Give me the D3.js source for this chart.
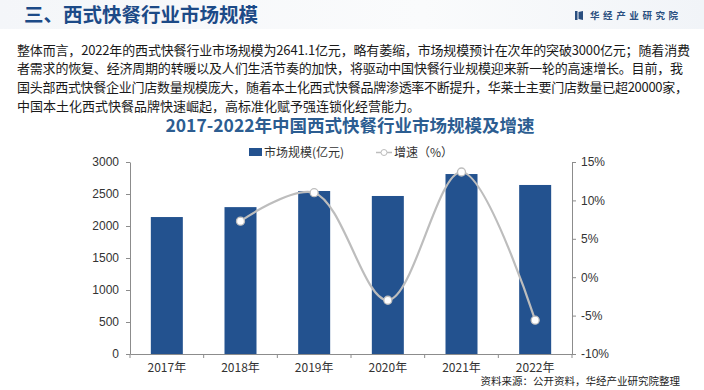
<!DOCTYPE html>
<html><head><meta charset="utf-8">
<script src="https://cdn.jsdelivr.net/npm/d3@7/dist/d3.min.js"></script>
<style>
html,body{margin:0;padding:0;background:#fff;}
svg{display:block;font-family:"Noto Sans CJK SC","Noto Sans",sans-serif;}
</style></head>
<body><svg id="c" width="704" height="390"></svg>
<script>
const categories = ["2017年","2018年","2019年","2020年","2021年","2022年"];
const marketSize = [2140, 2295, 2547, 2469, 2812, 2641.1];
const growth = [null, 7.3, 11.0, -3.0, 13.7, -5.6];
const leftTicks = [0, 500, 1000, 1500, 2000, 2500, 3000];
const rightTicks = [-10, -5, 0, 5, 10, 15];
const paragraph = [
  "整体而言，2022年的西式快餐行业市场规模为2641.1亿元，略有萎缩，市场规模预计在次年的突破3000亿元；随着消费",
  "者需求的恢复、经济周期的转暖以及人们生活节奏的加快，将驱动中国快餐行业规模迎来新一轮的高速增长。目前，我",
  "国头部西式快餐企业门店数量规模庞大，随着本土化西式快餐品牌渗透率不断提升，华莱士主要门店数量已超20000家，",
  "中国本土化西式快餐品牌快速崛起，高标准化赋予强连锁化经营能力。"
];
const paraWidths = [673, 666, 671, null];
const headerTitle = "三、西式快餐行业市场规模";
const chartTitle = "2017-2022年中国西式快餐行业市场规模及增速";
const legendLabels = ["市场规模(亿元)", "增速（%）"];
const source = "资料来源：公开资料，华经产业研究院整理";
const brand = "华经产业研究院";

const svg = d3.select("#c");
const W = 704, H = 390;

// header band
const grad = svg.append("defs").append("linearGradient").attr("id","hg").attr("x1","0").attr("x2","1");
grad.append("stop").attr("offset","0").attr("stop-color","#f4f6f9");
grad.append("stop").attr("offset","0.6").attr("stop-color","#fafbfc");
grad.append("stop").attr("offset","1").attr("stop-color","#f1f4f8");
svg.append("rect").attr("x",0).attr("y",0).attr("width",W).attr("height",29).attr("fill","url(#hg)");

svg.append("text").attr("x",24).attr("y",22).attr("font-size",19.5).attr("font-weight","bold")
  .attr("fill","#1c4a87").text(headerTitle);

// brand logo
const lg = svg.append("g").attr("transform","translate(575,11)");
lg.append("rect").attr("x",0).attr("y",0).attr("width",2.5).attr("height",9).attr("fill","#2a4f80");
lg.append("path").attr("d","M3.5,1 L8,0 L8,9 L3.5,8 Z").attr("fill","#2a4f80");
svg.append("text").attr("x",590).attr("y",19).attr("font-size",9.5).attr("font-weight","bold")
  .attr("letter-spacing","3.6px").attr("fill","#2a4f80").text(brand);

// paragraph
paragraph.forEach((t,i)=>{
  const tx = svg.append("text").attr("x",17).attr("y",54.5 + i*18.7).attr("font-size",13).attr("fill","#1a1a1a").text(t);
  if (paraWidths[i]) tx.attr("textLength",paraWidths[i]).attr("lengthAdjust","spacing");
});

// chart title
svg.append("text").attr("x",350).attr("y",132).attr("text-anchor","middle").attr("font-size",17.5)
  .attr("font-weight","bold").attr("fill","#2c5d91").text(chartTitle);

// scales
const x0 = 130, x1 = 572, yTop = 162, yBot = 354;
const xb = d3.scaleBand().domain(categories).range([x0, x1]);
const yL = d3.scaleLinear().domain([0,3000]).range([yBot, yTop]);
const yR = d3.scaleLinear().domain([-10,15]).range([yBot, yTop]);

const barColor = "#23528f";
const axisColor = "#8c8c8c";
const tickText = "#333";

// bars
svg.append("g").selectAll("rect").data(marketSize).join("rect")
  .attr("x",(d,i)=>xb(categories[i]) + xb.bandwidth()/2 - 16)
  .attr("width",32)
  .attr("y",d=>yL(d)).attr("height",d=>yBot - yL(d)).attr("fill",barColor);

// left axis
const gL = svg.append("g").attr("transform",`translate(${x0},0)`)
  .call(d3.axisLeft(yL).tickValues(leftTicks).tickSize(4).tickSizeOuter(0).tickPadding(7).tickFormat(d3.format("d")));
// right axis
const gR = svg.append("g").attr("transform",`translate(${x1},0)`)
  .call(d3.axisRight(yR).tickValues(rightTicks).tickSize(4).tickSizeOuter(0).tickPadding(5).tickFormat(d=>d+"%"));
// bottom axis
const gB = svg.append("g").attr("transform",`translate(0,${yBot})`)
  .call(d3.axisBottom(xb).tickSize(0).tickSizeOuter(0).tickPadding(9));
// band boundary ticks
const bounds = categories.map(c=>xb(c)).concat([x1]);
gB.selectAll(".btick").data(bounds).join("line").attr("class","btick")
  .attr("x1",d=>d).attr("x2",d=>d).attr("y1",0).attr("y2",4).attr("stroke",axisColor);

[gL,gR,gB].forEach(g=>{
  g.selectAll("path.domain").attr("stroke",axisColor);
  g.selectAll(".tick line").attr("stroke",axisColor);
  g.selectAll("text").attr("font-size",12).attr("fill",tickText).attr("font-family","'Liberation Sans',Arial,'Noto Sans CJK SC',sans-serif");
});
gB.selectAll("text").attr("font-family","'Noto Sans CJK SC',sans-serif").attr("font-size",12);

// line
const pts = growth.map((g,i)=>g===null?null:[xb(categories[i])+xb.bandwidth()/2, yR(g)]).filter(p=>p);
svg.append("path").datum(pts)
  .attr("d", d3.line().curve(d3.curveCatmullRom.alpha(0.5)))
  .attr("fill","none").attr("stroke","#bdbdbd").attr("stroke-width",2.2);
svg.append("g").selectAll("circle").data(pts).join("circle")
  .attr("cx",d=>d[0]).attr("cy",d=>d[1]).attr("r",4)
  .attr("fill","#fff").attr("stroke","#bdbdbd").attr("stroke-width",1.3);

// legend
svg.append("rect").attr("x",249).attr("y",148).attr("width",13).attr("height",8).attr("fill",barColor);
svg.append("text").attr("x",264).attr("y",157).attr("font-size",12).attr("fill","#333").text(legendLabels[0]);
svg.append("line").attr("x1",376).attr("x2",392).attr("y1",152.5).attr("y2",152.5).attr("stroke","#bdbdbd").attr("stroke-width",1.5);
svg.append("circle").attr("cx",384).attr("cy",152.5).attr("r",3).attr("fill","#fff").attr("stroke","#bdbdbd");
svg.append("text").attr("x",394).attr("y",157).attr("font-size",12).attr("fill","#333").text(legendLabels[1]);

// source
svg.append("text").attr("x",680).attr("y",385).attr("text-anchor","end").attr("font-size",10.5)
  .attr("fill","#222").text(source);
</script></body></html>
